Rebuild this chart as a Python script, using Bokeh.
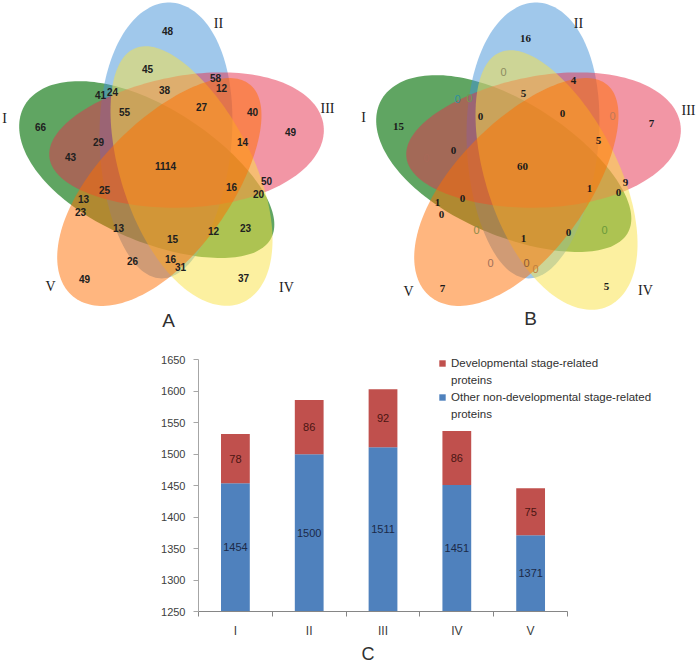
import numpy as np
from bokeh.plotting import figure
from bokeh.models import Range1d, FixedTicker, Legend, LegendItem, Title
from bokeh.embed import file_html
from bokeh.resources import INLINE
from bokeh.core.properties import value

# ---------------- data ----------------
set_names = ["I", "II", "III", "IV", "V"]

# Venn A region counts (reading order) and their label positions (page px)
venn_a_values = [48, 45, 58, 12, 41, 24, 38, 27, 40, 66, 55, 49, 29, 14, 43, 1114,
                 16, 50, 20, 25, 13, 23, 13, 15, 12, 23, 26, 16, 31, 49, 37]
venn_a_x = [167, 147, 215, 221, 100, 112, 164, 201, 252, 40, 124, 290, 98, 242, 70, 165,
            231, 266, 258, 104, 83, 80, 118, 172, 213, 245, 132, 170, 180, 84, 243]
venn_a_y = [30, 68, 77, 87, 94, 91, 89, 106, 111, 126, 111, 131, 141, 141, 156, 165,
            186, 180, 193, 189, 198, 211, 227, 238, 230, 227, 260, 258, 266, 278, 277]

# Venn B region counts
venn_b_values = [16, 0, 4, 0, 0, 5, 0, 0, 0, 15, 7, 0, 0, 5, 60,
                 1, 9, 0, 1, 0, 0, 0, 1, 0, 0, 0, 0, 0, 7, 5]
venn_b_x = [525, 503, 573, 457, 469, 523, 480, 562, 612, 398, 651, 426, 453, 598, 522,
            589, 625, 618, 437, 462, 441, 476, 523, 568, 604, 490, 526, 535, 442, 606]
venn_b_y = [38, 71, 80, 98, 97, 93, 116, 113, 115, 126, 123, 157, 150, 140, 166,
            188, 182, 192, 202, 198, 214, 229, 238, 232, 229, 262, 262, 268, 288, 286]
venn_b_color = ["#1a1a1a", "#8c8c60", "#1a1a1a", "#2f8fa0", "#6f9a50", "#1a1a1a", "#1a1a1a",
                "#1a1a1a", "#c07858", "#1a1a1a", "#1a1a1a", "#a86858", "#1a1a1a", "#1a1a1a",
                "#1a1a1a", "#1a1a1a", "#1a1a1a", "#1a1a1a", "#1a1a1a", "#1a1a1a", "#1a1a1a",
                "#8a8a48", "#1a1a1a", "#1a1a1a", "#6a9a3a", "#a0705a", "#8a5a3a", "#c08040",
                "#1a1a1a", "#1a1a1a"]
venn_b_bold = [1, 0, 1, 0, 0, 1, 1, 1, 0, 1, 1, 0, 1, 1, 1,
               1, 1, 1, 1, 1, 1, 0, 1, 1, 0, 0, 0, 0, 1, 1]

# Bar chart
stages = ["I", "II", "III", "IV", "V"]
other_proteins = [1454, 1500, 1511, 1451, 1371]
dev_proteins = [78, 86, 92, 86, 75]

# ---------------- layout / style ----------------
# ellipse template (Venn A, page px): center x, center y, outer-direction angle (deg, screen), a, b
ell_cx = [147, 165, 186, 188, 161]
ell_cy = [172, 140, 141, 175, 190]
ell_ang = [208, 272, 353.5, 67.2, 130]
ell_a = [140, 138, 138, 138, 138]
ell_b = [67, 66, 66, 66, 66]
ell_colors = ["#0a750e", "#4191d7", "#e52d4b", "#f9e141", "#ff6e00"]
ell_alpha = [0.65, 0.5, 0.5, 0.5, 0.5]
draw_order = [0, 1, 2, 3, 4]
egg = 0.1
venn_b_dx = [357, 367, 357, 365, 357]
venn_b_dy = [-6, 0, 0, 4, 0]

label_a_xy = [(4, 118), (218, 23), (327, 108), (286, 287), (50, 286)]
label_b_xy = [(363, 117), (578, 23), (688, 110), (645, 290), (408, 291)]


def egg_pts(cx, cy, a, b, ang_deg, n=180):
    t = np.linspace(0, 2 * np.pi, n)
    ang = np.deg2rad(ang_deg)
    ca, sa = np.cos(ang), np.sin(ang)
    bb = b * (1 + egg * np.cos(t))
    x = cx + a * np.cos(t) * ca - bb * np.sin(t) * sa
    y = cy + a * np.cos(t) * sa + bb * np.sin(t) * ca
    return list(x), list(y)


p1 = figure(width=697, height=338, x_range=Range1d(0, 697), y_range=Range1d(338, 0),
            toolbar_location=None, output_backend="svg",
            x_axis_location=None, y_axis_location=None, min_border=0)
p1.outline_line_color = None
p1.grid.grid_line_color = None

xs, ys, cols, alphas = [], [], [], []
for dx, dy in [([0] * 5, [0] * 5), (venn_b_dx, venn_b_dy)]:
    for k in draw_order:
        x, y = egg_pts(ell_cx[k] + dx[k], ell_cy[k] + dy[k], ell_a[k], ell_b[k], ell_ang[k])
        xs.append(x); ys.append(y); cols.append(ell_colors[k]); alphas.append(ell_alpha[k])
p1.patches(xs, ys, fill_color=cols, fill_alpha=alphas, line_color=None)

# Venn A numbers
p1.text(venn_a_x, venn_a_y, text=[str(v) for v in venn_a_values],
        text_font=value("Liberation Sans"), text_font_style="bold", text_font_size="10px",
        text_align="center", text_baseline="middle", text_color="#202020")

# Venn B numbers
bi = [i for i in range(len(venn_b_values)) if venn_b_bold[i]]
ni = [i for i in range(len(venn_b_values)) if not venn_b_bold[i]]
p1.text([venn_b_x[i] for i in bi], [venn_b_y[i] for i in bi],
        text=[str(venn_b_values[i]) for i in bi],
        text_font=value("Liberation Serif"), text_font_style="bold", text_font_size="11px",
        text_align="center", text_baseline="middle", text_color=[venn_b_color[i] for i in bi])
p1.text([venn_b_x[i] for i in ni], [venn_b_y[i] for i in ni],
        text=[str(venn_b_values[i]) for i in ni],
        text_font=value("Liberation Sans"), text_font_size="11px",
        text_align="center", text_baseline="middle", text_color=[venn_b_color[i] for i in ni])

# set labels
p1.text([xy[0] for xy in label_a_xy + label_b_xy], [xy[1] for xy in label_a_xy + label_b_xy],
        text=set_names + set_names, text_font=value("Liberation Serif"), text_font_size="14px",
        text_align="center", text_baseline="middle", text_color="#202020")
p1.text([168, 530], [320, 318], text=["A", "B"], text_font=value("Liberation Sans"),
        text_font_size="19px", text_align="center", text_baseline="middle", text_color="#303030")

# ---------------- bar chart ----------------
xpos = list(range(1, len(stages) + 1))
y0 = 1250
totals = [o + d for o, d in zip(other_proteins, dev_proteins)]
p2 = figure(width=697, height=328, x_range=Range1d(0.5, 7.261), y_range=Range1d(y0, 1660),
            toolbar_location=None, output_backend="svg",
            min_border_left=198, min_border_right=0, min_border_top=15, min_border_bottom=55)
p2.outline_line_color = None
p2.grid.grid_line_color = None

r_blue = p2.vbar(x=xpos, bottom=y0, top=other_proteins, width=0.39, fill_color="#4F81BD", line_color=None)
r_red = p2.vbar(x=xpos, bottom=other_proteins, top=totals, width=0.39, fill_color="#C0504D", line_color=None)

p2.text(xpos, [(y0 + o) / 2 for o in other_proteins], text=[str(o) for o in other_proteins],
        text_font=value("Liberation Sans"), text_font_size="11px", text_align="center",
        text_baseline="middle", text_color="#1c2a48")
p2.text(xpos, [o + d / 2 for o, d in zip(other_proteins, dev_proteins)], text=[str(d) for d in dev_proteins],
        text_font=value("Liberation Sans"), text_font_size="11px", text_align="center",
        text_baseline="middle", text_color="#4a1512")

p2.yaxis.ticker = FixedTicker(ticks=list(range(1250, 1651, 50)))
p2.yaxis.bounds = (1250, 1650)
p2.yaxis.axis_line_color = "#a6a6a6"
p2.yaxis.major_tick_line_color = "#a6a6a6"
p2.yaxis.major_tick_out = 5
p2.yaxis.major_tick_in = 0
p2.yaxis.minor_tick_line_color = None
p2.yaxis.major_label_standoff = 8
p2.yaxis.major_label_text_font = "Liberation Sans"
p2.yaxis.major_label_text_font_size = "11px"
p2.yaxis.major_label_text_color = "#404040"

p2.xaxis.ticker = FixedTicker(ticks=xpos, minor_ticks=[x - 0.5 for x in xpos] + [xpos[-1] + 0.5])
p2.xaxis.major_label_overrides = {x: s for x, s in zip(xpos, stages)}
p2.xaxis.bounds = (0.5, 5.5)
p2.xaxis.axis_line_color = "#868686"
p2.xaxis.major_tick_line_color = None
p2.xaxis.major_tick_out = 0
p2.xaxis.major_tick_in = 0
p2.xaxis.minor_tick_line_color = "#868686"
p2.xaxis.minor_tick_out = 5
p2.xaxis.minor_tick_in = 0
p2.xaxis.major_label_standoff = 7
p2.xaxis.major_label_text_font = "Liberation Sans"
p2.xaxis.major_label_text_font_size = "12px"
p2.xaxis.major_label_text_color = "#404040"

p2.add_layout(Title(text="C", align="left", offset=163, standoff=2,
                    text_font="Liberation Sans", text_font_style="normal",
                    text_font_size="18px", text_color="#303030"), "below")

legend = Legend(items=[LegendItem(label="Developmental stage-related", renderers=[r_red]),
                       LegendItem(label="proteins", renderers=[]),
                       LegendItem(label="Other non-developmental stage-related", renderers=[r_blue]),
                       LegendItem(label="proteins", renderers=[])],
                location=(240, 190), glyph_width=8, glyph_height=8, label_standoff=5, spacing=2,
                label_height=15, padding=0, margin=0, border_line_color=None, background_fill_alpha=0,
                label_text_font="Liberation Sans", label_text_font_size="11.5px",
                label_text_color="#303030")
p2.add_layout(legend)

open("out.html", "w").write(file_html([p1, p2], INLINE))
